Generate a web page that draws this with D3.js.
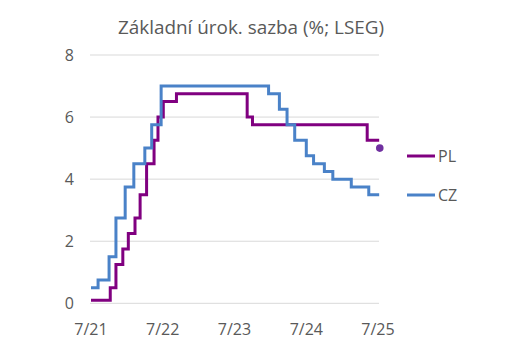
<!DOCTYPE html>
<html><head><meta charset="utf-8">
<script src="https://cdn.jsdelivr.net/npm/d3@7"></script>
<style>body{margin:0;background:#fff}svg{display:block}text{font-family:"Open Sans","Liberation Sans",Arial,sans-serif;fill:#595959}</style>
</head><body><svg id="c" width="510" height="362"></svg>
<script>
const title = "Základní úrok. sazba (%; LSEG)";
const seriesNames = ["PL", "CZ"];
const plDates = ["2021-07-01","2021-10-07","2021-11-05","2021-12-10","2022-01-07","2022-02-10","2022-03-08","2022-04-10","2022-05-18","2022-06-07","2022-07-04","2022-09-09","2023-09-04","2023-10-01","2025-05-07","2025-07-07"];
const plValues = [0.1,0.5,1.25,1.75,2.25,2.75,3.5,4.5,5.25,6.0,6.5,6.75,6.0,5.75,5.25,5.25];
const czDates = ["2021-07-01","2021-08-06","2021-10-01","2021-11-05","2021-12-22","2022-02-04","2022-04-01","2022-05-06","2022-06-23","2023-12-22","2024-02-15","2024-03-25","2024-05-03","2024-07-01","2024-08-07","2024-10-01","2024-11-13","2025-02-15","2025-05-15","2025-07-07"];
const czValues = [0.5,0.75,1.5,2.75,3.75,4.5,5.0,5.75,7.0,6.75,6.25,5.75,5.25,4.75,4.5,4.25,4.0,3.75,3.5,3.5];
const plForecastDate = ["2025-07-10"];
const plForecastValue = [5.0];
const yTicks = [0,2,4,6,8];
const xTickDates = ["2021-07-01","2022-07-01","2023-07-01","2024-07-01","2025-07-01"];
const xTickLabels = ["7/21","7/22","7/23","7/24","7/25"];

const parse = d3.utcParse("%Y-%m-%d");
const svg = d3.select("#c");
const x = d3.scaleUtc().domain([parse("2021-07-01"), parse("2025-07-01")]).range([91, 378]);
const y = d3.scaleLinear().domain([0, 8]).range([303.3, 55]);

svg.append("text").attr("x", 251).attr("y", 34).attr("text-anchor", "middle")
  .style("font-size", "18.9px").text(title);

svg.append("g").selectAll("line").data(yTicks).join("line")
  .attr("x1", 90).attr("x2", 379).attr("y1", d => y(d)).attr("y2", d => y(d))
  .attr("stroke", "#d9d9d9").attr("stroke-width", 1);

svg.append("g").selectAll("text").data(yTicks).join("text")
  .attr("x", 74).attr("y", d => y(d)).attr("dy", "0.36em").attr("text-anchor", "end")
  .style("font-size", "16px").text(d => d);

svg.append("g").selectAll("text").data(xTickDates).join("text")
  .attr("x", d => x(parse(d))).attr("y", 335).attr("text-anchor", "middle")
  .style("font-size", "16px").text((d, i) => xTickLabels[i]);

const line = d3.line().curve(d3.curveStepAfter).x(d => x(d[0])).y(d => y(d[1]));
const pl = plDates.map((d, i) => [parse(d), plValues[i]]);
const cz = czDates.map((d, i) => [parse(d), czValues[i]]);
const colors = {PL: "#800080", CZ: "#4a82c8"};

svg.append("path").datum(pl).attr("d", line).attr("fill", "none")
  .attr("stroke", colors.PL).attr("stroke-width", 3);
svg.append("path").datum(cz).attr("d", line).attr("fill", "none")
  .attr("stroke", colors.CZ).attr("stroke-width", 3);

svg.append("g").selectAll("circle").data(plForecastDate).join("circle")
  .attr("cx", (d) => x(parse(d))).attr("cy", (d, i) => y(plForecastValue[i])).attr("r", 3.8)
  .attr("fill", "#7030a0");

const leg = svg.append("g").selectAll("g").data(seriesNames).join("g")
  .attr("transform", (d, i) => `translate(407,${156 + i * 39})`);
leg.append("line").attr("x1", 0).attr("x2", 28).attr("stroke", d => colors[d]).attr("stroke-width", 3);
leg.append("text").attr("x", 31).attr("dy", "0.36em").style("font-size", "16px").text(d => d);
</script></body></html>
